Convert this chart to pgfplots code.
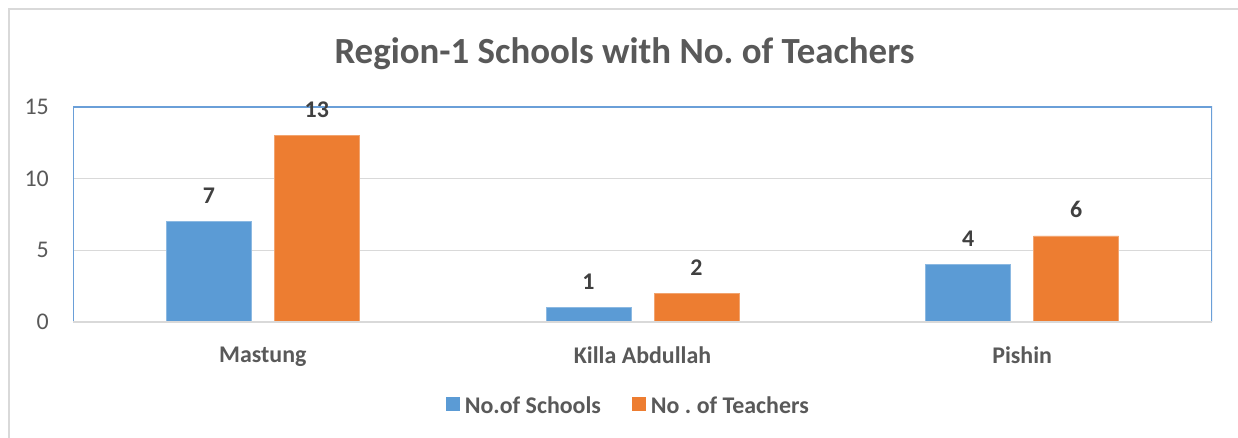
\documentclass[border=0pt]{standalone}
\usepackage{fontspec}
\setmainfont{Carlito}
\usepackage{pgfplots}
\pgfplotsset{compat=1.18}
\definecolor{cblue}{HTML}{5B9BD5}
\definecolor{corange}{HTML}{ED7D31}
\definecolor{ctext}{HTML}{595959}
\definecolor{dtext}{HTML}{404040}
\definecolor{cgrid}{HTML}{D9D9D9}
\definecolor{cborder}{HTML}{6A9FD8}
\begin{document}
\begin{tikzpicture}
\useasboundingbox (0bp,0bp) rectangle (1238bp,438bp);
\fill[white] (0bp,0bp) rectangle (1238bp,438bp);
\draw[cgrid, line width=2bp] (9bp,0bp) -- (9bp,429bp) -- (1238bp,429bp);
\node[anchor=base, text=ctext, inner sep=0pt, font=\fontsize{37}{44}\selectfont\bfseries] at (624.5bp,374bp) {Region-1 Schools with No.\ of Teachers};
\begin{axis}[
  at={(73bp,116bp)}, anchor=south west,
  scale only axis, width=1139bp, height=215bp,
  ybar=23bp, bar width=85bp,
  xmin=-0.5, xmax=2.5, ymin=0, ymax=15,
  xtick={0,1,2}, xticklabels={Mastung, Killa Abdullah, Pishin},
  ytick={0,5,10,15},
  major tick length=0pt,
  ymajorgrids, grid style={cgrid, line width=1.3bp},
  axis line style={draw=none},
  /pgf/number format/assume math mode=true,
  yticklabel style={font=\fontsize{24}{28}\selectfont, text=ctext, inner sep=0pt, xshift=-24bp},
  xticklabel style={font=\fontsize{24}{28}\selectfont\bfseries, text=ctext, inner sep=0pt, yshift=-25bp},
  nodes near coords,
  nodes near coords style={font=\fontsize{24}{28}\selectfont\bfseries, text=dtext, inner sep=0pt, anchor=south, yshift=18bp},
  legend columns=2,
  legend style={draw=none, fill=none, at={(0.488,-0.391)}, anchor=center,
    font=\fontsize{24}{28}\selectfont\bfseries, text=ctext,
    /tikz/every even column/.append style={column sep=28bp},
    /tikz/every odd column/.append style={column sep=2bp},
    nodes={inner sep=3bp}},
  legend image code/.code={\fill[#1, draw=none] (0bp,-5bp) rectangle (14bp,9bp);},
]
\addplot[fill=cblue, draw=cblue!70!white, line width=0.6bp] coordinates {(0,7) (1,1) (2,4)};
\addplot[fill=corange, draw=corange!70!white, line width=0.6bp] coordinates {(0,13) (1,2) (2,6)};
\legend{No.of Schools, No .\ of Teachers}
\draw[cborder, line width=1.3bp] (rel axis cs:0,0) -- (rel axis cs:0,1) -- (rel axis cs:1,1) -- (rel axis cs:1,0);
\draw[cgrid, line width=1.5bp] (rel axis cs:0,0) -- (rel axis cs:1,0);
\end{axis}
\end{tikzpicture}
\end{document}
